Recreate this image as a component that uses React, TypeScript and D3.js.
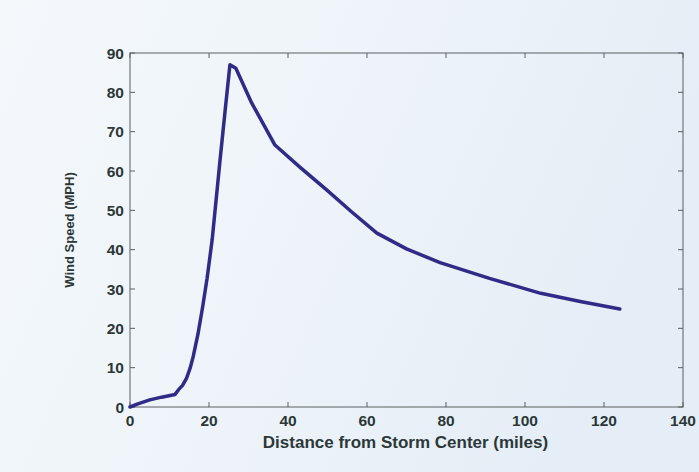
import React from "react";
import * as d3 from "d3";

const distance = [0, 2, 5, 8, 11.4, 12.3, 13.3, 14.3, 15.2, 16, 17.2, 18.4, 19.5, 20.8, 22.8, 24.1, 25.3, 26.8, 30.8, 36.7, 43, 50, 56, 62.5, 70, 78.5, 91, 104, 114, 124];
const windSpeed = [0, 0.8, 1.8, 2.5, 3.2, 4.4, 5.5, 7.3, 9.8, 12.8, 18.5, 25.5, 32.6, 42.5, 62.8, 75.5, 87, 86.1, 77.3, 66.6, 61.0, 55.0, 49.7, 44.2, 40.2, 36.7, 32.7, 28.9, 26.8, 24.9];
const xTicks = [0, 20, 40, 60, 80, 100, 120, 140];
const yTicks = [0, 10, 20, 30, 40, 50, 60, 70, 80, 90];
const xTitle = "Distance from Storm Center (miles)";
const yTitle = "Wind Speed (MPH)";

export default function App() {
  const W = 699, H = 472;
  const left = 130, right = 683, top = 53, bottom = 407;
  const x = d3.scaleLinear().domain([0, 140]).range([left, right]);
  const y = d3.scaleLinear().domain([0, 90]).range([bottom, top]);
  const pts = distance.map((d, i) => [d, windSpeed[i]] as [number, number]);
  const line = d3.line<[number, number]>().x(d => x(d[0])).y(d => y(d[1])).curve(d3.curveLinear);
  const textColor = "#2c3838";
  const axisColor = "#5a6060";
  const tk = 5;
  const ff = "Liberation Sans, Arial, sans-serif";
  return (
    <svg width={W} height={H} style={{ position: "absolute", left: 0, top: 0 }}>
      <defs>
        <linearGradient id="bg" x1="0" y1="0" x2="1" y2="0.3">
          <stop offset="0" stopColor="#f4f8fb" />
          <stop offset="0.5" stopColor="#eef4f9" />
          <stop offset="1" stopColor="#e5edf6" />
        </linearGradient>
      </defs>
      <rect x={0} y={0} width={W} height={H} fill="url(#bg)" />
      <rect x={left} y={top} width={right - left} height={bottom - top} fill="none" stroke={axisColor} strokeWidth={1} />
      {xTicks.map(t => (
        <g key={"x" + t}>
          <line x1={x(t)} x2={x(t)} y1={bottom} y2={bottom - tk} stroke={axisColor} />
          <line x1={x(t)} x2={x(t)} y1={top} y2={top + tk} stroke={axisColor} />
          <text x={x(t)} y={425.5} textAnchor="middle" fontFamily={ff} fontWeight="bold" fontSize={15.5} fill={textColor}>{t}</text>
        </g>
      ))}
      {yTicks.map(t => (
        <g key={"y" + t}>
          <line x1={left} x2={left + tk} y1={y(t)} y2={y(t)} stroke={axisColor} />
          <line x1={right} x2={right - tk} y1={y(t)} y2={y(t)} stroke={axisColor} />
          <text x={124} y={y(t) + 5.5} textAnchor="end" fontFamily={ff} fontWeight="bold" fontSize={15.5} fill={textColor}>{t}</text>
        </g>
      ))}
      <text x={(left + right) / 2 - 1} y={448} textAnchor="middle" fontFamily={ff} fontWeight="bold" fontSize={17} fill={textColor}>{xTitle}</text>
      <text transform={`translate(74,${(top + bottom) / 2}) rotate(-90)`} textAnchor="middle" fontFamily={ff} fontWeight="bold" fontSize={13} fill={textColor}>{yTitle}</text>
      <path d={line(pts) || ""} fill="none" stroke="#2f2b86" strokeWidth={3.5} strokeLinejoin="round" strokeLinecap="round" />
    </svg>
  );
}
